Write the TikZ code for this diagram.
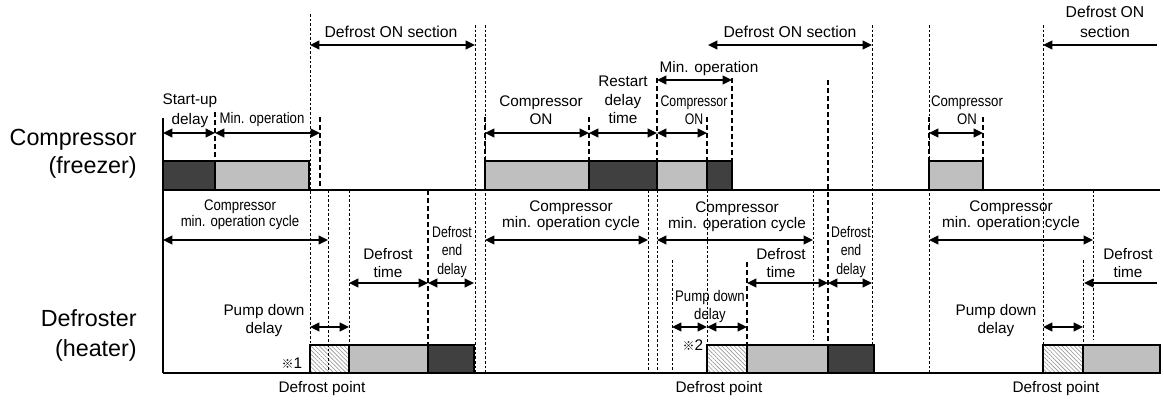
\documentclass[tikz,border=0pt]{standalone}
\usepackage{fontspec}
\setmainfont{Liberation Sans}
\newfontfamily\cjkfont{Noto Sans CJK JP}
\newfontfamily\condA[FakeStretch=0.86]{Liberation Sans}
\newfontfamily\condB[FakeStretch=0.8]{Liberation Sans}
\usetikzlibrary{arrows.meta,patterns.meta}
\definecolor{darkbar}{gray}{0.25}
\definecolor{lightbar}{gray}{0.75}
\begin{document}
\begin{tikzpicture}[x=0.75pt,y=-0.75pt,
  axisline/.style={line width=1.5pt},
  bar/.style={draw=black,line width=1.5pt},
  darkfill/.style={bar,fill=darkbar},
  lightfill/.style={bar,fill=lightbar},
  hatchfill/.style={bar,pattern={Lines[angle=-45,distance=2.2pt,line width=0.45pt]},pattern color=gray!85},
  thindash/.style={line width=0.6pt,dash pattern=on 2pt off 1.5pt},
  thickdash/.style={line width=1.8pt,dash pattern=on 3.5pt off 2.5pt},
  dim/.style={line width=1.3pt,{Triangle[length=7pt,width=6.5pt]}-{Triangle[length=7pt,width=6.5pt]}},
  ldim/.style={line width=1.3pt,{Triangle[length=7pt,width=6.5pt]}-},
  lbl/.style={align=center,inner sep=0pt,font=\fontsize{11.5}{14}\selectfont},
  big/.style={align=right,inner sep=0pt,anchor=east}]
\useasboundingbox (0,0) rectangle (1164,400);

% ---- bars: compressor ----
\draw[darkfill]  (163,161) rectangle (215,190);
\draw[lightfill] (215,161) rectangle (309,190);
\draw[lightfill] (485,161) rectangle (589,190);
\draw[darkfill]  (589,161) rectangle (657,190);
\draw[lightfill] (657,161) rectangle (707,190);
\draw[darkfill]  (707,161) rectangle (732,190);
\draw[lightfill] (929,161) rectangle (983,190);
% ---- bars: heater ----
\draw[hatchfill] (310,345) rectangle (349,373);
\draw[lightfill] (349,345) rectangle (428,373);
\draw[darkfill]  (428,345) rectangle (474,373);
\draw[hatchfill] (707,345) rectangle (747,373);
\draw[lightfill] (747,345) rectangle (828,373);
\draw[darkfill]  (828,345) rectangle (874,373);
\draw[hatchfill] (1043,345) rectangle (1083,373);
\draw[lightfill] (1083,345) rectangle (1160,373);

% ---- axes ----
\draw[axisline] (163,118) -- (163,373);
\draw[axisline] (163,190) -- (1160,190);
\draw[axisline] (163,373) -- (1160,373);

% ---- thin dashed lines ----
\draw[thindash] (310,14) -- (310,373);
\draw[thindash] (475,25) -- (475,373);
\draw[thindash] (485,25) -- (485,373);
\draw[thindash] (872,25) -- (872,345);
\draw[thindash] (929,25) -- (929,373);
\draw[thindash] (1043,25) -- (1043,373);
\draw[thindash] (328,190) -- (328,373);
\draw[thindash] (349,190) -- (349,345);
\draw[thindash] (648,190) -- (648,373);
\draw[thindash] (657,190) -- (657,373);
\draw[thindash] (672,260) -- (672,373);
\draw[thindash] (707,190) -- (707,345);
\draw[thindash] (813,190) -- (813,340);
\draw[thindash] (1083,260) -- (1083,345);
\draw[thindash] (1093,190) -- (1093,340);

% ---- thick dashed lines ----
\draw[thickdash] (215,112) -- (215,161);
\draw[thickdash] (320,117) -- (320,190);
\draw[thickdash] (428,190) -- (428,345);
\draw[thickdash] (485,117) -- (485,161);
\draw[thickdash] (589,117) -- (589,161);
\draw[thickdash] (657,78) -- (657,161);
\draw[thickdash] (707,117) -- (707,161);
\draw[thickdash] (732,78) -- (732,161);
\draw[thickdash] (747,262) -- (747,345);
\draw[thickdash] (828,80) -- (828,345);
\draw[thickdash] (929,117) -- (929,161);
\draw[thickdash] (983,117) -- (983,161);

% ---- dimension arrows: top ----
\draw[dim] (310,45) -- (475,45);
\draw[dim] (708,45) -- (872,45);
\draw[ldim] (1043,45) -- (1157,45);
\draw[dim] (163,133) -- (215,133);
\draw[dim] (215,133) -- (320,133);
\draw[dim] (485,133) -- (589,133);
\draw[dim] (589,133) -- (657,133);
\draw[dim] (657,133) -- (707,133);
\draw[dim] (657,80) -- (732,80);
\draw[dim] (929,133) -- (983,133);
% ---- dimension arrows: bottom ----
\draw[dim] (163,240) -- (328,240);
\draw[dim] (485,240) -- (648,240);
\draw[dim] (657,240) -- (813,240);
\draw[dim] (929,240) -- (1093,240);
\draw[dim] (310,327) -- (349,327);
\draw[dim] (672,327) -- (707,327);
\draw[dim] (707,327) -- (747,327);
\draw[dim] (1043,327) -- (1083,327);
\draw[dim] (349,283) -- (428,283);
\draw[dim] (428,283) -- (474,283);
\draw[dim] (747,283) -- (828,283);
\draw[dim] (828,283) -- (872,283);
\draw[ldim] (1084,283) -- (1157,283);

% ---- left labels ----
\node[big,font=\fontsize{17.5}{21}\selectfont] (comp) at (137,154) {Compressor\\(freezer)};
\node[big,font=\fontsize{17.5}{22.5}\selectfont] (defr) at (137,335) {Defroster\\(heater)};

% ---- top labels ----
\node[lbl,font=\fontsize{11.8}{15}\selectfont] (don1) at (391,32) {Defrost ON section};
\node[lbl,font=\fontsize{11.8}{15}\selectfont] (don2) at (790,32) {Defrost ON section};
\node[lbl,font=\fontsize{11.8}{15}\selectfont] (don3) at (1105,22) {Defrost ON\\section};
\node[lbl,font=\fontsize{11.5}{15}\selectfont] (sud) at (190,111) {Start-up\\delay};
\node[lbl,font=\condA\fontsize{11.5}{14}\selectfont] (mo1) at (262,120) {Min. operation};
\node[lbl,font=\fontsize{11.5}{13.5}\selectfont] (con1) at (541,110) {Compressor\\ON};
\node[lbl,font=\fontsize{11.5}{14}\selectfont] (rdt) at (623,100) {Restart\\delay\\time};
\node[lbl,font=\condB\fontsize{11.5}{13.5}\selectfont] (con2) at (694,110) {Compressor\\ON};
\node[lbl,font=\fontsize{11.5}{14}\selectfont] (mo2) at (709,69) {Min. operation};
\node[lbl,font=\condA\fontsize{11.5}{13.5}\selectfont] (con3) at (967,110) {Compressor\\ON};

% ---- bottom labels ----
\node[lbl,font=\condA\fontsize{11.5}{12}\selectfont] (mc1) at (240,215) {Compressor\\min. operation cycle};
\node[lbl,font=\fontsize{11.5}{12}\selectfont] (mc2) at (571,216) {Compressor\\min. operation cycle};
\node[lbl,font=\fontsize{11.5}{12}\selectfont] (mc3) at (737,217) {Compressor\\min. operation cycle};
\node[lbl,font=\fontsize{11.5}{12}\selectfont] (mc4) at (1011,216) {Compressor\\min. operation cycle};
\node[lbl,font=\fontsize{11.5}{13.5}\selectfont] (pd1) at (264,321) {Pump down\\delay};
\node[lbl,font=\condA\fontsize{11.5}{13.5}\selectfont] (pd2) at (710,307) {Pump down\\delay};
\node[lbl,font=\fontsize{11.5}{13.5}\selectfont] (pd3) at (996,321) {Pump down\\delay};
\node[lbl,font=\fontsize{11.5}{14}\selectfont] (dt1) at (388,263) {Defrost\\time};
\node[lbl,font=\fontsize{11.5}{14}\selectfont] (dt2) at (781,263) {Defrost\\time};
\node[lbl,font=\fontsize{11.5}{14}\selectfont] (dt3) at (1128,263) {Defrost\\time};
\node[lbl,font=\condB\fontsize{11.5}{14}\selectfont] (ded1) at (452,252) {Defrost\\end\\delay};
\node[lbl,font=\condB\fontsize{11.5}{14}\selectfont] (ded2) at (851,252) {Defrost\\end\\delay};
\node[lbl,font=\fontsize{11.5}{14}\selectfont] (n1) at (292,363) {{\cjkfont\fontsize{9}{10}\selectfont ※}1};
\node[lbl,font=\fontsize{11.5}{14}\selectfont] (n2) at (693,345) {{\cjkfont\fontsize{9}{10}\selectfont ※}2};
\node[lbl,font=\fontsize{11.5}{14}\selectfont] (dp1) at (322,389) {Defrost point};
\node[lbl,font=\fontsize{11.5}{14}\selectfont] (dp2) at (719,389) {Defrost point};
\node[lbl,font=\fontsize{11.5}{14}\selectfont] (dp3) at (1056,389) {Defrost point};
\end{tikzpicture}
\end{document}
